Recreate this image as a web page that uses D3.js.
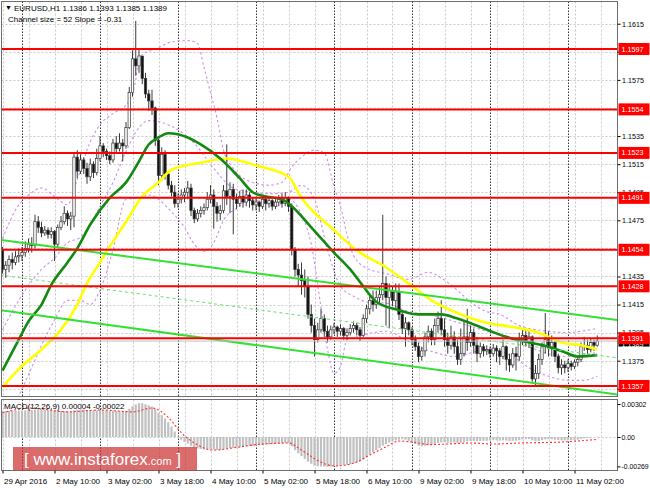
<!DOCTYPE html>
<html><head><meta charset="utf-8">
<script src="https://cdn.jsdelivr.net/npm/d3@7"></script>
<style>body{margin:0;background:#fff;} svg{display:block;font-family:"Liberation Sans",Arial,sans-serif;}</style>
</head><body><svg id="c" width="650" height="488"></svg>
<script>
// ---------------- DATA ----------------
const firstOpen = 1.1454;
const closes = [1.1440,1.1443,1.1447,1.1445,1.1449,1.1450,1.1452,1.1455,1.1458,1.1457,1.1474,1.1470,1.1466,1.1468,1.1465,1.1467,1.1458,1.1470,1.1474,1.1480,
1.1476,1.1478,1.1520,1.1510,1.1518,1.1512,1.1506,1.1515,1.1509,1.1519,1.1528,1.1524,1.1521,1.1518,1.1530,1.1526,1.1530,1.1528,1.1541,1.1566,
1.1590,1.1585,1.1592,1.1576,1.1565,1.1560,1.1555,1.1532,1.1507,1.1522,1.1508,1.1500,1.1495,1.1487,1.1490,1.1493,1.1495,1.1498,1.1482,1.1476,
1.1480,1.1482,1.1484,1.1490,1.1493,1.1485,1.1480,1.1482,1.1496,1.1492,1.1497,1.1490,1.1487,1.1492,1.1488,1.1493,1.1489,1.1486,1.1488,1.1485,
1.1490,1.1487,1.1489,1.1485,1.1488,1.1490,1.1487,1.1491,1.1485,1.1454,1.1440,1.1436,1.1432,1.1428,1.1408,1.1400,1.1390,1.1397,1.1405,1.1396,
1.1392,1.1397,1.1399,1.1396,1.1398,1.1393,1.1395,1.1398,1.1400,1.1397,1.1393,1.1405,1.1412,1.1418,1.1415,1.1420,1.1422,1.1430,1.1420,1.1425,
1.1418,1.1424,1.1408,1.1398,1.1402,1.1397,1.1390,1.1385,1.1378,1.1382,1.1392,1.1396,1.1390,1.1400,1.1405,1.1397,1.1390,1.1386,1.1392,1.1385,
1.1376,1.1380,1.1392,1.1388,1.1395,1.1386,1.1380,1.1385,1.1382,1.1383,1.1380,1.1384,1.1382,1.1378,1.1385,1.1376,1.1372,1.1380,1.1378,1.1390,
1.1393,1.1388,1.1392,1.1362,1.1366,1.1376,1.1385,1.1390,1.1384,1.1388,1.1378,1.1370,1.1372,1.1370,1.1373,1.1371,1.1374,1.1376,1.1385,1.1386,
1.1383,1.1388,1.1386,1.1389];
const highs = [1.1456,1.1446,1.1450,1.1452,1.1453,1.1455,1.1456,1.1460,1.1462,1.1463,1.1479,1.1478,1.1474,1.1471,1.1470,1.1470,1.1468,1.1472,1.1478,1.1485,
1.1482,1.1481,1.1523,1.1525,1.1522,1.1520,1.1516,1.1519,1.1517,1.1526,1.1535,1.1530,1.1526,1.1524,1.1533,1.1535,1.1537,1.1533,1.1545,1.1570,
1.1596,1.1617,1.1597,1.1592,1.1580,1.1568,1.1568,1.1556,1.1533,1.1527,1.1525,1.1510,1.1503,1.1500,1.1494,1.1497,1.1498,1.1503,1.1501,1.1484,
1.1483,1.1485,1.1487,1.1495,1.1500,1.1497,1.1488,1.1486,1.1500,1.1529,1.1502,1.1501,1.1494,1.1496,1.1497,1.1497,1.1495,1.1491,1.1491,1.1489,
1.1492,1.1493,1.1492,1.1490,1.1490,1.1493,1.1494,1.1495,1.1492,1.1487,1.1456,1.1444,1.1445,1.1440,1.1435,1.1415,1.1405,1.1402,1.1412,1.1408,
1.1400,1.1400,1.1402,1.1400,1.1401,1.1399,1.1398,1.1401,1.1403,1.1402,1.1399,1.1408,1.1415,1.1422,1.1425,1.1425,1.1428,1.1479,1.1435,1.1430,
1.1428,1.1430,1.1430,1.1410,1.1406,1.1403,1.1399,1.1393,1.1388,1.1385,1.1395,1.1400,1.1398,1.1405,1.1410,1.1418,1.1405,1.1395,1.1400,1.1396,
1.1390,1.1398,1.1403,1.1412,1.1400,1.1398,1.1392,1.1388,1.1387,1.1386,1.1385,1.1387,1.1386,1.1384,1.1390,1.1386,1.1380,1.1384,1.1385,1.1395,
1.1397,1.1398,1.1396,1.1393,1.1372,1.1380,1.1388,1.1409,1.1396,1.1393,1.1390,1.1380,1.1376,1.1375,1.1376,1.1375,1.1376,1.1378,1.1388,1.1392,
1.1390,1.1391,1.1390,1.1393];
const lows = [1.1437,1.1434,1.1438,1.1440,1.1443,1.1445,1.1446,1.1449,1.1452,1.1452,1.1455,1.1466,1.1463,1.1464,1.1462,1.1462,1.1446,1.1456,1.1468,1.1472,
1.1471,1.1468,1.1470,1.1505,1.1508,1.1508,1.1501,1.1503,1.1505,1.1507,1.1517,1.1520,1.1518,1.1515,1.1516,1.1523,1.1524,1.1517,1.1526,1.1540,
1.1563,1.1578,1.1580,1.1572,1.1562,1.1553,1.1550,1.1528,1.1500,1.1503,1.1504,1.1497,1.1492,1.1484,1.1484,1.1487,1.1488,1.1490,1.1478,1.1473,
1.1474,1.1477,1.1479,1.1482,1.1487,1.1469,1.1474,1.1475,1.1480,1.1486,1.1480,1.1465,1.1483,1.1485,1.1484,1.1485,1.1484,1.1482,1.1482,1.1481,
1.1483,1.1482,1.1484,1.1482,1.1483,1.1485,1.1484,1.1485,1.1481,1.1450,1.1435,1.1428,1.1422,1.1420,1.1405,1.1395,1.1378,1.1388,1.1395,1.1392,
1.1388,1.1390,1.1394,1.1392,1.1393,1.1390,1.1390,1.1393,1.1395,1.1393,1.1389,1.1392,1.1402,1.1408,1.1410,1.1412,1.1415,1.1418,1.1400,1.1398,
1.1414,1.1412,1.1404,1.1394,1.1385,1.1393,1.1386,1.1382,1.1374,1.1375,1.1378,1.1388,1.1386,1.1386,1.1395,1.1393,1.1385,1.1380,1.1383,1.1380,
1.1372,1.1372,1.1378,1.1382,1.1385,1.1380,1.1374,1.1377,1.1378,1.1379,1.1377,1.1378,1.1374,1.1372,1.1376,1.1368,1.1367,1.1370,1.1368,1.1375,
1.1386,1.1385,1.1384,1.1360,1.1357,1.1362,1.1372,1.1380,1.1378,1.1378,1.1374,1.1366,1.1365,1.1366,1.1367,1.1368,1.1369,1.1371,1.1374,1.1382,
1.1380,1.1381,1.1382,1.1385];

// moving averages: [bar index, price]
const greenMA = [[0,1.1368],[5,1.1390],[8,1.1403],[12,1.1415],[15,1.1429],[20,1.1445],[23,1.1455],[27,1.1472],[33,1.1491],[38,1.1502],[42,1.1517],[45,1.1529],[48,1.1534],[51,1.1537],[57,1.1534],[61,1.1529],[67,1.1519],[73,1.1505],[77,1.1495],[81,1.1492],[86,1.1490],[89,1.1485],[95,1.1470],[102,1.1452],[107,1.1440],[111,1.1428],[115,1.1417],[122,1.1411],[128,1.1408],[135,1.1408],[140,1.1405],[147,1.1399],[155,1.1392],[160,1.1389],[168,1.1385],[173,1.1381],[177,1.1378],[183,1.1379]];
const yellowMA = [[0,1.1356],[5,1.1369],[12,1.1383],[18,1.1397],[23,1.1415],[26,1.1430],[30,1.1445],[34,1.1460],[38,1.1474],[43,1.1492],[48,1.1502],[52,1.1511],[61,1.1516],[69,1.1519],[78,1.1514],[88,1.1506],[92,1.1491],[102,1.1468],[110,1.1452],[117,1.1443],[125,1.1430],[132,1.1418],[140,1.1409],[149,1.1402],[157,1.1399],[165,1.1395],[172,1.1388],[178,1.1386],[183,1.1383]];
// bands (dotted violet)
const bandUpper = [[0,1.1462],[5,1.1486],[8,1.1493],[12,1.1498],[16,1.1492],[20,1.1486],[23,1.1504],[27,1.1531],[30,1.1543],[34,1.1551],[38,1.1557],[41,1.1575],[42,1.1591],[48,1.1598],[52,1.1602],[57,1.1603],[60,1.1601],[62,1.1584],[64,1.1566],[66,1.1548],[68,1.1525],[71,1.1512],[77,1.1502],[82,1.1500],[86,1.1502],[89,1.1513],[92,1.1520],[96,1.1525],[99,1.1523],[102,1.1499],[104,1.1485],[106,1.1465],[108,1.1450],[112,1.1441],[118,1.1437],[125,1.1433],[131,1.1438],[135,1.1434],[140,1.1425],[145,1.1415],[149,1.1410],[153,1.1408],[159,1.1400],[168,1.1396],[174,1.1395],[178,1.1396],[183,1.1398]];
const bandMiddle = [[0,1.1397],[5,1.1418],[12,1.1440],[16,1.1448],[20,1.1459],[24,1.1463],[27,1.1472],[30,1.1485],[34,1.1502],[38,1.1524],[42,1.1541],[45,1.1546],[52,1.1542],[59,1.1530],[65,1.1512],[71,1.1498],[77,1.1495],[82,1.1494],[88,1.1495],[92,1.1500],[96,1.1490],[100,1.1454],[104,1.1428],[108,1.1421],[112,1.1417],[118,1.1416],[125,1.1410],[131,1.1408],[139,1.1403],[149,1.1396],[157,1.1390],[168,1.1380],[174,1.1378],[183,1.1381]];
const bandLower = [[0,1.1330],[5,1.1350],[8,1.1365],[12,1.1386],[16,1.1404],[20,1.1418],[24,1.1418],[27,1.1415],[30,1.1425],[34,1.1454],[38,1.1490],[42,1.1491],[45,1.1493],[52,1.1481],[56,1.1470],[59,1.1458],[62,1.1453],[65,1.1459],[68,1.1475],[73,1.1485],[76,1.1490],[81,1.1487],[84,1.1485],[88,1.1490],[92,1.1479],[95,1.1458],[98,1.1413],[100,1.1383],[102,1.1366],[104,1.1371],[106,1.1390],[109,1.1392],[114,1.1395],[118,1.1396],[124,1.1390],[128,1.1385],[133,1.1381],[139,1.1378],[149,1.1383],[157,1.1378],[162,1.1370],[168,1.1364],[174,1.1361],[179,1.1361],[183,1.1364]];

// channel (bar index, price) endpoints
const channelUpper = [[-0.77,1.1461],[189.1,1.1404]];
const channelMid   = [[-0.77,1.1436],[189.1,1.1377]];
const channelLower = [[-0.77,1.1411],[189.1,1.1351]];

const levels = [1.1597,1.1554,1.1523,1.1491,1.1454,1.1428,1.1391,1.1357];
const bidPrice = 1.1389;
const priceTicks = [1.1615,1.1595,1.1575,1.1535,1.1515,1.1495,1.1475,1.1435,1.1415,1.1395,1.1375,1.1355];
const gridTicks = [1.1615,1.1595,1.1575,1.1555,1.1535,1.1515,1.1495,1.1475,1.1455,1.1435,1.1415,1.1395,1.1375,1.1355];

const macdHist = [0.00238,0.00236,0.00238,0.00240,0.00241,0.00242,0.00243,0.00244,0.00246,0.00246,0.00252,0.00254,0.00253,0.00252,0.00250,0.00248,0.00242,0.00240,
0.00238,0.00238,0.00235,0.00232,0.00245,0.00250,0.00252,0.00250,0.00246,0.00246,0.00243,0.00244,0.00247,0.00246,0.00242,0.00238,0.00240,0.00238,
0.00238,0.00234,0.00240,0.00258,0.00282,0.00298,0.00310,0.00308,0.00300,0.00290,0.00278,0.00255,0.00222,0.00200,0.00170,0.00135,0.00095,0.00050,
0.00005,-0.00025,-0.00045,-0.00060,-0.00080,-0.00095,-0.00105,-0.00110,-0.00115,-0.00115,-0.00112,-0.00115,-0.00118,-0.00120,-0.00112,-0.00108,-0.00100,-0.00100,
-0.00098,-0.00092,-0.00090,-0.00085,-0.00083,-0.00082,-0.00078,-0.00076,-0.00072,-0.00070,-0.00068,-0.00066,-0.00064,-0.00060,-0.00058,-0.00055,-0.00056,-0.00085,
-0.00120,-0.00150,-0.00175,-0.00200,-0.00225,-0.00245,-0.00262,-0.00268,-0.00270,-0.00272,-0.00272,-0.00270,-0.00268,-0.00265,-0.00262,-0.00258,-0.00254,-0.00248,
-0.00240,-0.00232,-0.00225,-0.00205,-0.00185,-0.00160,-0.00140,-0.00120,-0.00100,-0.00080,-0.00065,-0.00050,-0.00040,-0.00030,-0.00025,-0.00020,-0.00025,-0.00035,
-0.00050,-0.00065,-0.00080,-0.00085,-0.00080,-0.00075,-0.00072,-0.00065,-0.00055,-0.00050,-0.00050,-0.00052,-0.00050,-0.00050,-0.00055,-0.00052,-0.00045,-0.00040,
-0.00035,-0.00035,-0.00038,-0.00036,-0.00035,-0.00034,-0.00033,-0.00030,-0.00030,-0.00032,-0.00030,-0.00032,-0.00036,-0.00035,-0.00034,-0.00028,-0.00022,-0.00020,
-0.00018,-0.00030,-0.00038,-0.00035,-0.00028,-0.00022,-0.00020,-0.00020,-0.00024,-0.00028,-0.00030,-0.00030,-0.00029,-0.00028,-0.00026,-0.00024,-0.00016,-0.00010,
-0.00008,-0.00004,-0.00002,0.00004];
const macdSignal = [[0,0.00222],[9,0.00265],[20,0.00230],[30,0.00247],[40,0.00230],[46,0.00265],[51,0.00180],[55,0.00040],[59,-0.00055],[65,-0.00120],[71,-0.00100],[78,-0.00070],[88,-0.00055],[92,-0.00120],[98,-0.00230],[102,-0.00265],[108,-0.00240],[113,-0.00165],[118,-0.00090],[122,-0.00037],[126,-0.00046],[132,-0.00070],[137,-0.00064],[144,-0.00055],[151,-0.00064],[159,-0.00055],[172,-0.00046],[183,-0.00022]];
const macdTicks = [0.00302,0,-0.00269];

const timeIdx = [0,16,32,48,64,80,96,112,128,144,160,176];
const timeLabels = ["29 Apr 2016","2 May 10:00","3 May 02:00","3 May 18:00","4 May 10:00","5 May 02:00","5 May 18:00","6 May 10:00","9 May 02:00","9 May 18:00","10 May 10:00","11 May 02:00"];
const daySeparators = [6,30,54,78,102,126,150,174];
const gridIdx = d3.range(0,185,8);

// ---------------- DRAW ----------------
const svg = d3.select('#c');
const FONT = 8, AXF = 7.2;
const x = d3.scaleLinear().domain([0,183]).range([2.5,597.25]);
const y = d3.scaleLinear().domain([1.1357,1.1597]).range([386,49]);
const ym = d3.scaleLinear().domain([-0.00269,0.00302]).range([466.4,404]);
const M = {l:1.5, r:617.5, t:1.5, b:397};
const P = {t:399.5, b:470.5};

const defs = svg.append('defs');
defs.append('clipPath').attr('id','cm').append('rect').attr('x',M.l).attr('y',M.t).attr('width',M.r-M.l).attr('height',M.b-M.t);
defs.append('clipPath').attr('id','cp').append('rect').attr('x',M.l).attr('y',P.t).attr('width',M.r-M.l).attr('height',P.b-P.t);

const main = svg.append('g').attr('clip-path','url(#cm)');
const sub = svg.append('g').attr('clip-path','url(#cp)');

// grids
main.selectAll('.hg').data(gridTicks).join('line')
  .attr('x1',M.l).attr('x2',M.r).attr('y1',d=>Math.round(y(d))+0.5).attr('y2',d=>Math.round(y(d))+0.5)
  .attr('stroke','#c8c8c8').attr('stroke-dasharray','2,2');
[main, sub].forEach((g,k)=>{
  const y1 = k===0?M.t:P.t, y2 = k===0?M.b:P.b;
  g.selectAll('.vg').data(gridIdx).join('line')
    .attr('x1',d=>Math.round(x(d))+0.5).attr('x2',d=>Math.round(x(d))+0.5).attr('y1',y1).attr('y2',y2)
    .attr('stroke','#c8c8c8').attr('stroke-dasharray','2,2');
  g.selectAll('.sep').data(daySeparators).join('line')
    .attr('x1',d=>Math.round(x(d))+0.5).attr('x2',d=>Math.round(x(d))+0.5).attr('y1',y1).attr('y2',y2)
    .attr('stroke','#333').attr('stroke-dasharray','1.5,1.5');
});

const line = d3.line().x(d=>x(d[0])).y(d=>y(d[1])).curve(d3.curveMonotoneX);

// bands
[bandUpper, bandMiddle, bandLower].forEach(b=>{
  main.append('path').attr('d',line(b)).attr('fill','none').attr('stroke','#cf8fee')
    .attr('stroke-width',1.1).attr('stroke-dasharray','2.5,2.5');
});

// candles
const candles = closes.map((c,i)=>({i, o: i===0?firstOpen:closes[i-1], h: highs[i], l: lows[i], c}));
main.selectAll('.wick').data(candles).join('line')
  .attr('x1',d=>x(d.i)).attr('x2',d=>x(d.i)).attr('y1',d=>y(d.h)).attr('y2',d=>y(d.l))
  .attr('stroke','#3a3a3a').attr('stroke-width',1);
main.selectAll('.body').data(candles).join('rect')
  .attr('x',d=>x(d.i)-1.2).attr('width',2.4)
  .attr('y',d=>y(Math.max(d.o,d.c))).attr('height',d=>Math.max(0.8,Math.abs(y(d.o)-y(d.c))))
  .attr('fill',d=>d.c>=d.o?'#fff':'#111').attr('stroke','#3a3a3a').attr('stroke-width',0.7);

// MAs
main.append('path').attr('d',line(yellowMA)).attr('fill','none').attr('stroke','#ffff00').attr('stroke-width',2.6);
main.append('path').attr('d',line(greenMA)).attr('fill','none').attr('stroke','#128a12').attr('stroke-width',2.6);

// channel
const sline = d3.line().x(d=>x(d[0])).y(d=>y(d[1]));
main.append('path').attr('d',sline(channelUpper)).attr('stroke','#33e033').attr('stroke-width',2).attr('fill','none');
main.append('path').attr('d',sline(channelLower)).attr('stroke','#33e033').attr('stroke-width',2).attr('fill','none');
main.append('path').attr('d',sline(channelMid)).attr('stroke','#66e066').attr('stroke-width',1).attr('stroke-dasharray','3,3').attr('fill','none');

// bid line
main.append('line').attr('x1',M.l).attr('x2',M.r).attr('y1',y(bidPrice)).attr('y2',y(bidPrice)).attr('stroke','#c0c0c0').attr('stroke-width',1);

// levels
main.selectAll('.lvl').data(levels).join('line')
  .attr('x1',M.l).attr('x2',M.r).attr('y1',d=>y(d)).attr('y2',d=>y(d))
  .attr('stroke','#ff0000').attr('stroke-width',2);

// MACD
const bw = 2.2;
sub.append('line').attr('x1',M.l).attr('x2',M.r).attr('y1',Math.round(ym(0))+0.5).attr('y2',Math.round(ym(0))+0.5)
  .attr('stroke','#c8c8c8').attr('stroke-dasharray','2,2');
sub.selectAll('.mh').data(macdHist).join('rect')
  .attr('x',(d,i)=>x(i)-bw/2).attr('width',bw)
  .attr('y',d=>Math.min(ym(d),ym(0))).attr('height',d=>Math.abs(ym(d)-ym(0)))
  .attr('fill','#c0c0c0');
sub.append('path').attr('d',d3.line().x(d=>x(d[0])).y(d=>ym(d[1])).curve(d3.curveMonotoneX)(macdSignal))
  .attr('fill','none').attr('stroke','#ff3030').attr('stroke-width',1.1).attr('stroke-dasharray','2,2');

// frames
svg.append('rect').attr('x',M.l).attr('y',M.t).attr('width',M.r-M.l).attr('height',M.b-M.t-0.5).attr('fill','none').attr('stroke','#6e6e6e');
svg.append('rect').attr('x',M.l).attr('y',P.t).attr('width',M.r-M.l).attr('height',P.b-P.t).attr('fill','none').attr('stroke','#6e6e6e');

// right price axis
const ax = svg.append('g').attr('transform',`translate(${M.r},0)`)
  .call(d3.axisRight(y).tickValues(priceTicks).tickFormat(d3.format('.4f')).tickSize(3).tickPadding(1.5));
ax.select('.domain').remove();
ax.selectAll('text').attr('font-size',AXF).attr('font-family','"Liberation Sans",Arial,sans-serif').attr('fill','#000');
ax.selectAll('line').attr('stroke','#000');

// bid label (black) then level labels (red)
const lab = svg.append('g');
lab.append('rect').attr('x',M.r+1).attr('y',y(bidPrice)-5.5).attr('width',31).attr('height',11).attr('fill','#000');
lab.append('text').attr('x',M.r+4).attr('y',y(bidPrice)+3).attr('dy','0.35em').attr('font-size',AXF).attr('fill','#fff').text(bidPrice.toFixed(4));
lab.selectAll('.lr').data(levels).join('rect')
  .attr('x',M.r+1).attr('y',d=>y(d)-6).attr('width',31).attr('height',12).attr('fill','#ff0000');
lab.selectAll('.lt').data(levels).join('text')
  .attr('x',M.r+4).attr('y',d=>y(d)).attr('dy','0.35em').attr('font-size',AXF).attr('fill','#fff').text(d=>d.toFixed(4));

// MACD axis
const mx = svg.append('g').attr('transform',`translate(${M.r},0)`)
  .call(d3.axisRight(ym).tickValues(macdTicks).tickFormat(d=>d===0?'0.00':d.toFixed(5)).tickSize(3).tickPadding(1));
mx.select('.domain').remove();
mx.selectAll('text').attr('font-size',6.9).attr('font-family','"Liberation Sans",Arial,sans-serif').attr('fill','#000');
mx.selectAll('line').attr('stroke','#000');

// time axis
const tx = svg.append('g').attr('transform',`translate(0,${P.b})`)
  .call(d3.axisBottom(x).tickValues(timeIdx).tickFormat((d,i)=>timeLabels[i]).tickSize(3).tickPadding(5));
tx.select('.domain').remove();
tx.selectAll('text').attr('font-size',FONT).attr('font-family','"Liberation Sans",Arial,sans-serif').attr('fill','#000')
  .attr('text-anchor','start').attr('dx','1');
tx.selectAll('line').attr('stroke','#000');

// header texts
svg.append('text').attr('x',5).attr('y',10).attr('font-size',7).attr('fill','#000').text('▼');
svg.append('text').attr('x',14).attr('y',10.5).attr('font-size',FONT).attr('fill','#000').text('EURUSD,H1  1.1386 1.1393 1.1385 1.1389');
svg.append('text').attr('x',8).attr('y',22).attr('font-size',FONT).attr('fill','#000').text('Channel size = 52 Slope = -0.31');
svg.append('text').attr('x',4).attr('y',409).attr('font-size',FONT).attr('fill','#000').text('MACD(12,26,9) 0.00004 -0.00022');

// watermark
const wm = svg.append('g');
wm.append('rect').attr('x',13).attr('y',447).attr('width',184).attr('height',23.5).attr('fill','#cc3333').attr('opacity',0.72);
const wt = wm.append('text').attr('x',24).attr('y',465).attr('fill','#fff').attr('font-size',17);
wt.append('tspan').text('[ www.instaforex');
wt.append('tspan').attr('font-size',11).text('.com');
wt.append('tspan').attr('font-size',17).text(' ]');
</script></body></html>
